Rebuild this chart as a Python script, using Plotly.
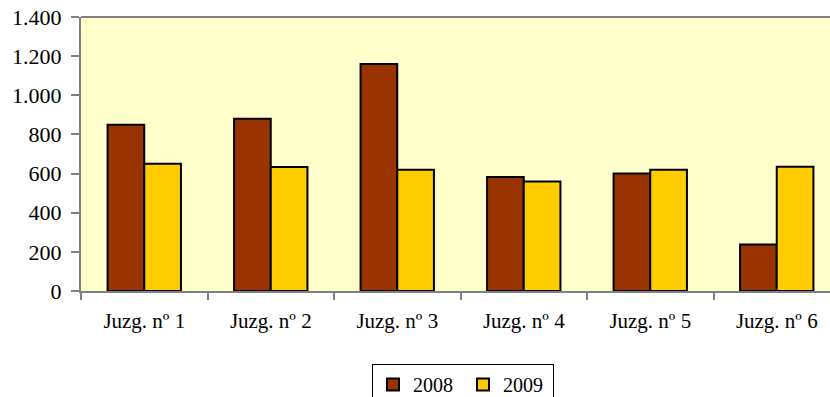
import plotly.graph_objects as go

categories = ["Juzg. nº 1", "Juzg. nº 2", "Juzg. nº 3", "Juzg. nº 4", "Juzg. nº 5", "Juzg. nº 6"]
values_2008 = [850, 880, 1160, 582, 600, 238]
values_2009 = [650, 634, 620, 560, 620, 635]
y_ticks = [0, 200, 400, 600, 800, 1000, 1200, 1400]

FONT = "Liberation Serif"

fig = go.Figure()
fig.add_trace(go.Bar(name="2008", x=categories, y=values_2008,
                     marker=dict(color="#993300", line=dict(color="black", width=2))))
fig.add_trace(go.Bar(name="2009", x=categories, y=values_2009,
                     marker=dict(color="#FFCC00", line=dict(color="black", width=2))))

W, H = 830, 397
ml, mt, mb = 81, 17, 106
plot_w = W - ml
plot_h = H - mt - mb
cat_px = 126.5

fig.update_layout(
    width=W, height=H, autosize=False,
    margin=dict(l=ml, r=0, t=mt, b=mb, pad=0, autoexpand=False),
    paper_bgcolor="white",
    plot_bgcolor="#FFFFCC",
    barmode="group", bargap=0.42, bargroupgap=0,
    separators=",.",
    font=dict(family=FONT, size=21, color="black"),
    showlegend=True,
    legend=dict(orientation="h", x=(463 - ml) / plot_w, xanchor="center",
                y=-(364 - (mt + plot_h)) / plot_h, yanchor="top",
                bordercolor="black", borderwidth=1,
                bgcolor="white", font=dict(family=FONT, size=20, color="black"),
                entrywidth=45, itemwidth=30, tracegroupgap=0),
    xaxis=dict(type="category", range=[-0.5, -0.5 + plot_w / cat_px],
               automargin=False,
               showline=True, linecolor="#808080", linewidth=2,
               ticks="outside", tickson="boundaries", ticklen=7, tickcolor="#808080",
               tickwidth=2, showgrid=False, ticklabelstandoff=10,
               tickfont=dict(family=FONT, size=21, color="black")),
    yaxis=dict(range=[0, 1400], tickvals=y_ticks, tickformat=",d",
               automargin=False,
               showline=True, linecolor="#808080", linewidth=2,
               ticks="outside", ticklen=8, tickcolor="#808080", tickwidth=2,
               showgrid=False, zeroline=False, ticklabelstandoff=5,
               tickfont=dict(family=FONT, size=22, color="black")),
    shapes=[dict(type="line", xref="paper", yref="paper", x0=0, x1=1, y0=1, y1=1,
                 line=dict(color="#808080", width=2))],
)

fig.write_html("out.html", config={"displayModeBar": False},
               post_script="document.body.style.margin='0';document.body.style.overflow='hidden';")
